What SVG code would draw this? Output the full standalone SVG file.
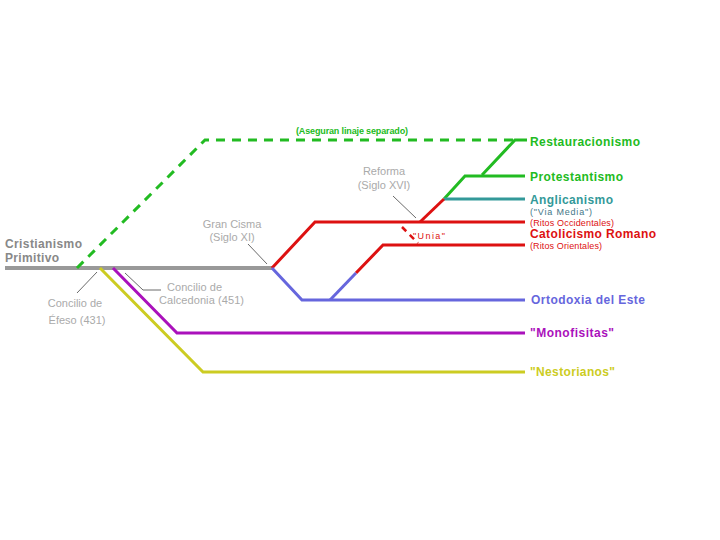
<svg xmlns="http://www.w3.org/2000/svg" width="720" height="540" viewBox="0 0 720 540">
<style>
.ln{fill:none;stroke-width:3;stroke-linejoin:miter;stroke-linecap:butt}
.g{stroke:#22bb22}.t{stroke:#339999}.r{stroke:#dd1111}.b{stroke:#6666dd}.p{stroke:#aa11bb}.y{stroke:#cccc22}.gr{stroke:#999999;stroke-width:4}
.lead{fill:none;stroke:#444;stroke-width:0.8}
.lbl{font-family:"Liberation Sans",Arial,sans-serif;font-weight:bold;font-size:12px}
.ann{font-family:"Liberation Sans",Arial,sans-serif;font-size:11px;fill:#aaaaaa}
.sm{font-family:"Liberation Sans",Arial,sans-serif;font-size:9px}
</style>
<rect width="720" height="540" fill="#ffffff"/>
<g id="connectors">
<path class="ln gr" d="M5,268 H272"/>
<path class="ln g" d="M77,268 L205,140 H517" stroke-dasharray="9,7" stroke-width="2"/>
<path class="ln g" d="M527,140 H515 L482,175"/>
<path class="ln g" d="M525,176 H465 L444,199"/>
<path class="ln t" d="M525,199 H444"/>
<path class="ln r" d="M444,199 L420,222"/>
<path class="ln r" d="M525,222 H315 L272,268"/>
<path class="ln r" d="M525,245 H383 L356,273"/>
<path class="ln b" d="M356,273 L330,300"/>
<path class="ln b" d="M272,268 L302,300 H525"/>
<path class="ln p" d="M113,268 L177,333 H525"/>
<path class="ln y" d="M100,268 L203,372 H525"/>
<path d="M402,227 L418,243" fill="none" stroke="#dd1111" stroke-width="2.5" stroke-dasharray="6,5"/>
<path class="lead" d="M97,272 L77,293"/>
<path class="lead" d="M125,273 L143,290 H161"/>
<path class="lead" d="M248,244 L267,264"/>
<path class="lead" d="M393,196 L416,218"/>
</g>
<g id="primitivo"><text class="lbl" x="5" y="248" fill="#888888" textLength="77">Cristianismo</text><text class="lbl" x="5" y="262" fill="#888888" textLength="54">Primitivo</text></g>
<g id="efeso"><text class="ann" x="75" y="307" text-anchor="middle">Concilio de</text><text class="ann" x="77" y="324" text-anchor="middle">Éfeso (431)</text></g>
<g id="calcedonia"><text class="ann" x="167" y="291" textLength="55">Concilio de</text><text class="ann" x="159" y="304" textLength="85">Calcedonia (451)</text></g>
<g id="cisma"><text class="ann" x="232" y="228" text-anchor="middle">Gran Cisma</text><text class="ann" x="232" y="241" text-anchor="middle">(Siglo XI)</text></g>
<g id="reforma"><text class="ann" x="384" y="175" text-anchor="middle">Reforma</text><text class="ann" x="384" y="189" text-anchor="middle">(Siglo XVI)</text></g>
<g id="linaje"><text class="sm" x="352" y="134" text-anchor="middle" fill="#22bb22" font-weight="bold" textLength="112">(Aseguran linaje separado)</text></g>
<g id="unia"><text class="sm" x="413" y="239" fill="#dd1111" font-size="11" textLength="32">"Unia"</text></g>
<g id="restauracionismo"><text class="lbl" x="530" y="146" fill="#22bb22" textLength="110">Restauracionismo</text></g>
<g id="protestantismo"><text class="lbl" x="530" y="181" fill="#22bb22" textLength="93">Protestantismo</text></g>
<g id="anglicanismo"><text class="lbl" x="530" y="204" fill="#339999" textLength="83">Anglicanismo</text><text class="sm" x="530" y="215" fill="#447788" textLength="62">("Via Media")</text></g>
<g id="catolicismo"><text class="sm" x="530" y="226" fill="#dd1111" textLength="84">(Ritos Occidentales)</text><text class="lbl" x="530" y="238" fill="#dd1111" textLength="126">Catolicismo Romano</text><text class="sm" x="530" y="249" fill="#dd1111" textLength="72">(Ritos Orientales)</text></g>
<g id="ortodoxia"><text class="lbl" x="531" y="304" fill="#6666dd" textLength="114">Ortodoxia del Este</text></g>
<g id="monofisitas"><text class="lbl" x="530" y="337" fill="#aa11bb" textLength="84">"Monofisitas"</text></g>
<g id="nestorianos"><text class="lbl" x="530" y="376" fill="#cccc22" textLength="85">"Nestorianos"</text></g>
</svg>
